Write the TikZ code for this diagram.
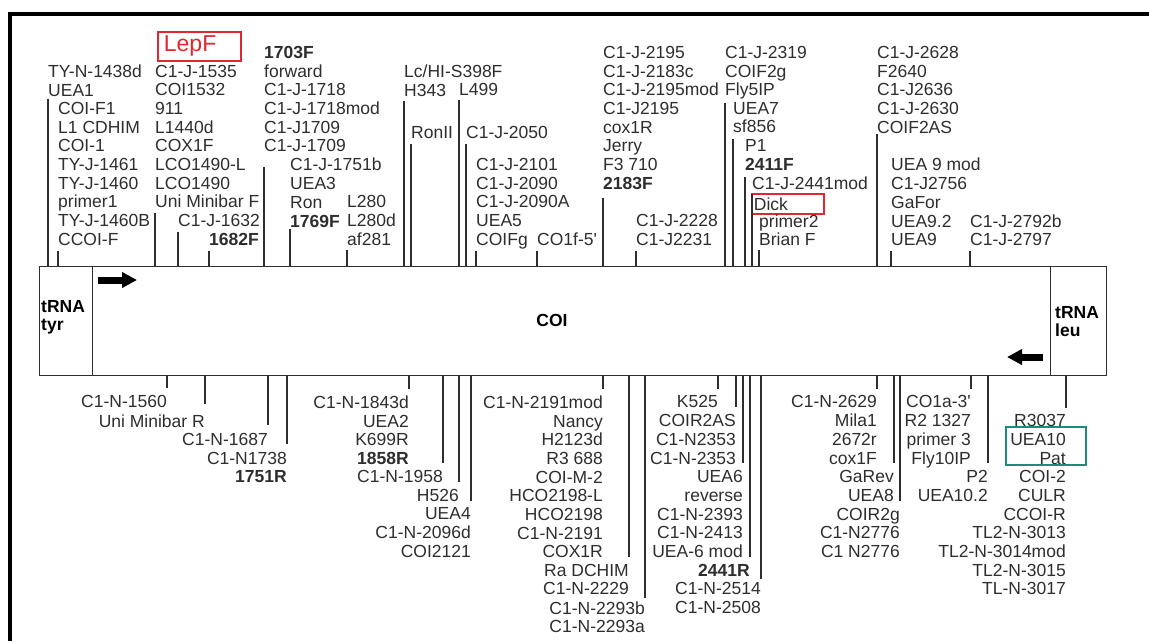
\documentclass[tikz,border=0pt]{standalone}
\usepackage{fontspec}
\setmainfont{Liberation Sans}
\usetikzlibrary{arrows.meta,positioning,calc}
\definecolor{ink}{HTML}{2E2E2E}
\definecolor{markred}{HTML}{E0282E}
\definecolor{markteal}{HTML}{1F8A7A}
\newcommand\labfont{\fontsize{17.5}{18.7}\selectfont}

\begin{document}
\begin{tikzpicture}[x=1pt,y=-1pt,
    fwd/.style={anchor=north west,inner sep=0pt,align=left,font=\labfont,text=ink},
    rev/.style={anchor=north east,inner sep=0pt,align=right,font=\labfont,text=ink},
    tick/.style={draw=ink,line width=1.2pt},
    gene/.style={draw=ink,line width=1.2pt,minimum height=109pt,inner sep=0pt,anchor=north west},
    hilite/.style={draw=#1,line width=1.8pt,anchor=north west,inner ysep=0pt}]
    \useasboundingbox (0,0) rectangle (1149,641);
    \fill[white] (0,0) rectangle (1149,641);
    \draw[line width=4pt] (10,641) -- (10,14) -- (1149,14);

    % gene map
    \node[gene,minimum width=53pt] (tyr) at (39,266) {};
    \node[gene,minimum width=958pt] (coi) at (92,266) {};
    \node[gene,minimum width=56pt] (leu) at (1050,266) {};
    \node[font=\bfseries\labfont,align=left,anchor=north west,inner sep=0pt] (tyrlab) at (41,300) {tRNA\\tyr};
    \node[font=\bfseries\labfont,align=left,anchor=north west,inner sep=0pt] (leulab) at (1055,306) {tRNA\\leu};
    \node[font=\bfseries\labfont,inner sep=0pt] (coilab) at (552,320) {COI};
    \draw[line width=7pt,-{Triangle[length=15pt,width=15pt]}] (98,280) -- (137,280);
    \draw[line width=7pt,-{Triangle[length=15pt,width=15pt]}] (1043,357) -- (1007,357);

    % forward primers
    \node[hilite=markred,text=markred,font=\fontsize{23}{23}\selectfont,minimum height=29pt,text width=71pt,inner xsep=6pt,align=left] (lepf) at (157,31) {LepF};
    \node[fwd] (tyn) at (48,64.6) {TY-N-1438d\\UEA1};
    \node[fwd] (coif) at (58,102) {COI-F1\\L1 CDHIM\\COI-1\\TY-J-1461\\TY-J-1460\\primer1\\TY-J-1460B\\CCOI-F};
    \node[fwd] (c1535) at (155,64.6) {C1-J-1535\\COI1532\\911\\L1440d\\COX1F\\LCO1490-L\\LCO1490\\Uni Minibar F};
    \node[fwd] (c1632) at (178,214.2) {C1-J-1632};
    \node[fwd] (f1682) at (209,232.9) {\textbf{1682F}};
    \node[fwd] (f1703) at (264,45.9) {\textbf{1703F}\\forward\\C1-J-1718\\C1-J-1718mod\\C1-J1709\\C1-J-1709};
    \node[fwd] (c1751) at (290,158.1) {C1-J-1751b\\UEA3\\Ron\\\textbf{1769F}};
    \node[fwd] (l280) at (347,195.5) {L280\\L280d\\af281};
    \node[fwd] (lchi) at (404,64.6) {Lc/HI-S398F\\H343};
    \node[fwd] (l499) at (459,83.3) {L499};
    \node[fwd] (ronii) at (411,126.5) {RonII};
    \node[fwd] (c2050) at (466,126.5) {C1-J-2050};
    \node[fwd] (c2101) at (476,158.1) {C1-J-2101\\C1-J-2090\\C1-J-2090A\\UEA5\\COIFg};
    \node[fwd] (co1f) at (537,232.9) {CO1f-5\textquotesingle};
    \node[fwd] (c2195) at (603,45.9) {C1-J-2195\\C1-J-2183c\\C1-J-2195mod\\C1-J2195\\cox1R\\Jerry\\F3 710\\\textbf{2183F}};
    \node[fwd] (c2228) at (636,214.2) {C1-J-2228\\C1-J2231};
    \node[fwd] (c2319) at (725,45.9) {C1-J-2319\\COIF2g\\Fly5IP};
    \node[fwd] (uea7) at (733,102) {UEA7\\sf856};
    \node[fwd] (p1) at (745,139.4) {P1\\\textbf{2411F}};
    \node[fwd] (c2441) at (752,176.8) {C1-J-2441mod};
    \node[hilite=markred,text=ink,font=\labfont,minimum height=20pt,text width=68pt,inner xsep=2pt,align=left] (dick) at (751,193) {Dick};
    \node[fwd] (primer2) at (759,214.2) {primer2\\Brian F};
    \node[fwd] (c2628) at (877,45.9) {C1-J-2628\\F2640\\C1-J2636\\C1-J-2630\\COIF2AS};
    \node[fwd] (uea9) at (891,158.1) {UEA 9 mod\\C1-J2756\\GaFor\\UEA9.2\\UEA9};
    \node[fwd] (c2792) at (970,214.2) {C1-J-2792b\\C1-J-2797};

    \draw[tick] ([yshift=-2pt]tyn.south west) -- (tyn.south west |- coi.north);
    \draw[tick] ([yshift=-5pt]coif.south west) -- (coif.south west |- coi.north);
    \draw[tick] ([yshift=-5pt]c1535.south west) -- (c1535.south west |- coi.north);
    \draw[tick] ([yshift=-5pt]c1632.south west) -- (c1632.south west |- coi.north);
    \draw[tick] ([yshift=-5pt]f1682.south west) -- (f1682.south west |- coi.north);
    \draw[tick] ([yshift=-15pt]f1703.south west) -- (f1703.south west |- coi.north);
    \draw[tick] ([yshift=-2pt]c1751.south west) -- (c1751.south west |- coi.north);
    \draw[tick] ([yshift=-4pt]l280.south west) -- (l280.south west |- coi.north);
    \draw[tick] ([yshift=-4pt]lchi.south west) -- (lchi.south west |- coi.north);
    \draw[tick] ([yshift=-4pt]l499.south west) -- (l499.south west |- coi.north);
    \draw[tick] ([yshift=-5pt]ronii.south west) -- (ronii.south west |- coi.north);
    \draw[tick] ([yshift=-5pt]c2050.south west) -- (c2050.south west |- coi.north);
    \draw[tick] ([yshift=-2pt]c2101.south west) -- (c2101.south west |- coi.north);
    \draw[tick] ([yshift=-5pt]co1f.south west) -- (co1f.south west |- coi.north);
    \draw[tick] ([yshift=-8pt]c2195.south west) -- (c2195.south west |- coi.north);
    \draw[tick] ([yshift=-5pt]c2228.south west) -- (c2228.south west |- coi.north);
    \draw[tick] ([yshift=-3pt]c2319.south west) -- (c2319.south west |- coi.north);
    \draw[tick] ([yshift=-6pt]uea7.south west) -- (uea7.south west |- coi.north);
    \draw[tick] ([yshift=-6pt]p1.south west) -- (p1.south west |- coi.north);
    \draw[tick] ([yshift=-4pt]c2441.south west) -- (c2441.south west |- coi.north);
    \draw[tick] ([yshift=-4pt]primer2.south west) -- (primer2.south west |- coi.north);
    \draw[tick] ([yshift=-1pt]c2628.south west) -- (c2628.south west |- coi.north);
    \draw[tick] ([yshift=-5pt]uea9.south west) -- (uea9.south west |- coi.north);
    \draw[tick] ([yshift=-5pt]c2792.south west) -- (c2792.south west |- coi.north);

    % reverse primers
    \node[rev] (c1560) at (167,395.5) {C1-N-1560};
    \node[rev] (unir) at (205,414.2) {Uni Minibar R};
    \node[rev] (c1687) at (268,432.9) {C1-N-1687};
    \node[rev] (c1738) at (287,451.6) {C1-N1738\\\textbf{1751R}};
    \node[rev] (c1843) at (409,395.5) {C1-N-1843d\\UEA2\\K699R\\\textbf{1858R}};
    \node[rev] (c1958) at (443,470.3) {C1-N-1958};
    \node[rev] (h526) at (459,489) {H526};
    \node[rev] (uea4) at (471,507.7) {UEA4\\C1-N-2096d\\COI2121};
    \node[rev] (c2191) at (603,395.5) {C1-N-2191mod\\Nancy\\H2123d\\R3 688\\COI-M-2\\HCO2198-L\\HCO2198\\C1-N-2191\\COX1R};
    \node[rev] (radchim) at (629,563.8) {Ra DCHIM\\C1-N-2229};
    \node[rev] (c2293) at (645,601.2) {C1-N-2293b\\C1-N-2293a};
    \node[rev] (k525) at (718,395.5) {K525};
    \node[rev] (coir2as) at (736,414.2) {COIR2AS\\C1-N2353\\C1-N-2353};
    \node[rev] (uea6) at (743,470.3) {UEA6\\reverse\\C1-N-2393\\C1-N-2413\\UEA-6 mod};
    \node[rev] (r2441) at (750,563.8) {\textbf{2441R}};
    \node[rev] (c2514) at (761,582.5) {C1-N-2514\\C1-N-2508};
    \node[rev] (c2629) at (877,395.5) {C1-N-2629\\Mila1\\2672r\\cox1F};
    \node[rev] (garev) at (894,470.3) {GaRev\\UEA8};
    \node[rev] (coir2g) at (900,507.7) {COIR2g\\C1-N2776\\C1 N2776};
    \node[rev] (co1a) at (971,395.5) {CO1a-3\textquotesingle\\R2 1327\\primer 3\\Fly10IP};
    \node[rev] (p2) at (988,470.3) {P2\\UEA10.2};
    \node[rev] (r3037) at (1066,414.2) {R3037\\UEA10\\Pat\\COI-2\\CULR\\CCOI-R\\TL2-N-3013\\TL2-N-3014mod\\TL2-N-3015\\TL-N-3017};
    \draw[markteal,line width=2pt] (1006,427) rectangle (1086,465);

    \draw[tick] (coi.south -| c1560.north east) -- ([yshift=8pt]c1560.north east);
    \draw[tick] (coi.south -| unir.north east) -- ([yshift=10pt]unir.north east);
    \draw[tick] (coi.south -| c1687.north east) -- ([yshift=8pt]c1687.north east);
    \draw[tick] (coi.south -| c1738.north east) -- ([yshift=8pt]c1738.north east);
    \draw[tick] (coi.south -| c1843.north east) -- ([yshift=7pt]c1843.north east);
    \draw[tick] (coi.south -| c1958.north east) -- ([yshift=7pt]c1958.north east);
    \draw[tick] (coi.south -| h526.north east) -- ([yshift=7pt]h526.north east);
    \draw[tick] (coi.south -| uea4.north east) -- ([yshift=7pt]uea4.north east);
    \draw[tick] (coi.south -| c2191.north east) -- ([yshift=7pt]c2191.north east);
    \draw[tick] (coi.south -| radchim.north east) -- ([yshift=7pt]radchim.north east);
    \draw[tick] (coi.south -| c2293.north east) -- ([yshift=3pt]c2293.north east);
    \draw[tick] (coi.south -| k525.north east) -- ([yshift=7pt]k525.north east);
    \draw[tick] (coi.south -| coir2as.north east) -- ([yshift=7pt]coir2as.north east);
    \draw[tick] (coi.south -| uea6.north east) -- ([yshift=7pt]uea6.north east);
    \draw[tick] (coi.south -| r2441.north east) -- ([yshift=7pt]r2441.north east);
    \draw[tick] (coi.south -| c2514.north east) -- ([yshift=4pt]c2514.north east);
    \draw[tick] (coi.south -| c2629.north east) -- ([yshift=7pt]c2629.north east);
    \draw[tick] (coi.south -| garev.north east) -- ([yshift=7pt]garev.north east);
    \draw[tick] (coi.south -| coir2g.north east) -- ([yshift=7pt]coir2g.north east);
    \draw[tick] (coi.south -| co1a.north east) -- ([yshift=7pt]co1a.north east);
    \draw[tick] (coi.south -| p2.north east) -- ([yshift=7pt]p2.north east);
    \draw[tick] (coi.south -| r3037.north east) -- ([yshift=6pt]r3037.north east);
\end{tikzpicture}
\end{document}
